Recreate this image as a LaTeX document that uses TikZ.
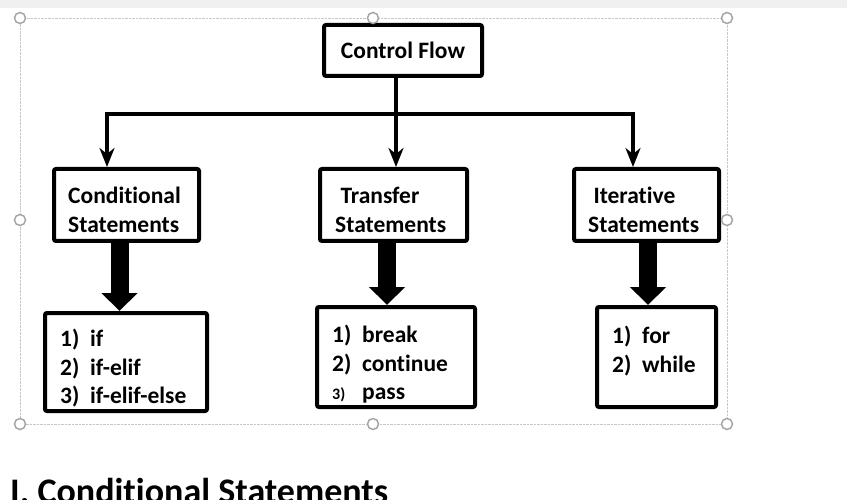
\documentclass[tikz,border=0pt]{standalone}
\usepackage{fontspec}
\setmainfont{Carlito}[Ligatures=NoCommon]
\usetikzlibrary{arrows.meta}

\begin{document}
\begin{tikzpicture}[x=1pt,y=-1pt,
	box/.style={draw,line width=4pt,rounded corners=2pt,inner sep=0pt},
	flow/.style={line width=4pt,-{Stealth[width=15pt,length=19pt,inset=6pt]}},
	fat/.style={line width=18pt,-{Triangle[width=35pt,length=18pt]}},
	txt/.style={anchor=north west,align=left,inner sep=0pt,font=\bfseries\fontsize{23.5}{28.5}\selectfont},
	handle/.style={draw=gray!70,line width=1.5pt,fill=white}]
	\useasboundingbox (0,0) rectangle (847,500);
	% word window
	\fill[gray!12] (0,0) rectangle (847,8);
	\draw[gray!45,densely dotted] (20,18) rectangle (727,424);

	% top box
	\node[box,minimum width=158pt,minimum height=51pt,font=\bfseries\fontsize{23.5}{28}\selectfont] (cf) at (403,50.5) {Control Flow};

	% statement boxes
	\node[box,minimum width=145pt,minimum height=72pt] (cond) at (126.5,205) {};
	\node[txt] (condtext) at (68,187) {Conditional\\Statements};
	\node[box,minimum width=147pt,minimum height=72pt] (trans) at (393.5,205) {};
	\node[txt] (transtext) at (335,187) {~Transfer\\Statements};
	\node[box,minimum width=145pt,minimum height=72pt] (iter) at (646.5,205) {};
	\node[txt] (itertext) at (588,187) {~Iterative\\Statements};

	% lists
	\node[box,minimum width=162pt,minimum height=98pt] (condlist) at (126,362) {};
	\node[txt] (conditems) at (60,329) {\makebox[30pt][l]{1)}if\\\makebox[30pt][l]{2)}if-elif\\\makebox[30pt][l]{3)}if-elif-else};
	\node[box,minimum width=158pt,minimum height=100pt] (translist) at (396,357) {};
	\node[txt] (transitems) at (332,325) {\makebox[30pt][l]{1)}break\\\makebox[30pt][l]{2)}continue\\\makebox[30pt][l]{\fontsize{16}{28}\selectfont 3)}pass};
	\node[box,minimum width=119pt,minimum height=100pt] (iterlist) at (656.5,357) {};
	\node[txt] (iteritems) at (612,326) {\makebox[30pt][l]{1)}for\\\makebox[30pt][l]{2)}while};

	% thin arrows
	\coordinate (split) at (396,114);
	\draw[flow] ([xshift=-7pt]cf.south) -- ([xshift=-7pt]cf.south |- trans.north);
	\draw[flow] (split) -| ([xshift=-19.5pt]cond.north);
	\draw[flow] (split) -| ([xshift=-13.5pt]iter.north);

	% thick arrows
	\draw[fat] ([xshift=-7pt]cond.south) -- ([xshift=-7pt]cond.south |- condlist.north);
	\draw[fat] ([xshift=-6.5pt]trans.south) -- ([xshift=-6.5pt]trans.south |- translist.north);
	\draw[fat] ([xshift=1.5pt]iter.south) -- ([xshift=1.5pt]iter.south |- iterlist.north);

	% selection handles
	\foreach \x/\y in {20/18,373/18,727/18,20/220,727/220,20/424,373/424,727/424}
		\draw[handle] (\x,\y) circle [radius=5.5pt];

	% heading below
	\node[anchor=base west,inner sep=0pt,font=\bfseries\fontsize{36}{40}\selectfont] (head) at (10,503) {I. Conditional Statements};
\end{tikzpicture}
\end{document}
